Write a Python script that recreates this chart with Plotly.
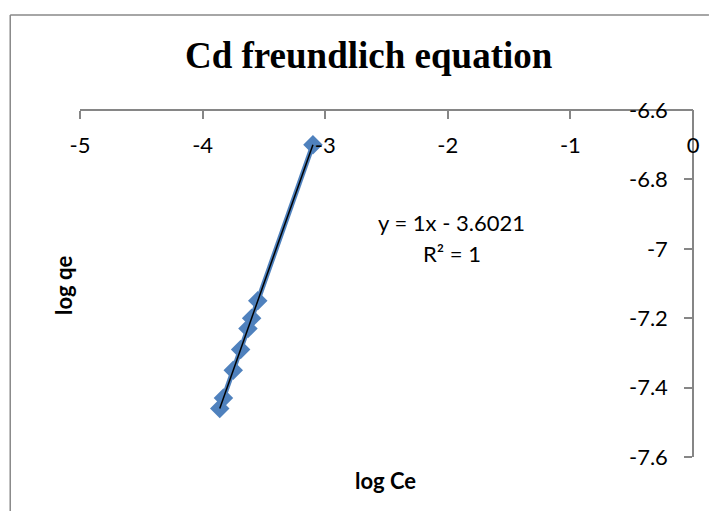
import numpy as np
import plotly.graph_objects as go

# Data
log_ce = [-3.10, -3.55, -3.60, -3.63, -3.69, -3.75, -3.83, -3.86]
log_qe = [-6.70, -7.15, -7.20, -7.23, -7.29, -7.35, -7.43, -7.46]

x_ticks = [-5, -4, -3, -2, -1, 0]
y_ticks = [-7.6, -7.4, -7.2, -7.0, -6.8, -6.6]
x_tick_text = ["-5", "-4", "-3", "-2", "-1", "0"]
y_tick_text = ["-7.6", "-7.4", "-7.2", "-7", "-6.8", "-6.6"]

title_text = "Cd freundlich equation"
eq_text = "y = 1x - 3.6021"
r2_text = "R² = 1"

# page has an 8px body margin; keep the figure inside the window
OFF = 8
W, H = 720 - 2 * OFF, 519 - 2 * OFF
L, T = 80 - OFF, 110 - OFF
R = W - (695 - OFF)
B = H - (457 - OFF)
pw, ph = W - L - R, H - T - B

def px(x):
    return (x - OFF - L) / pw

def py(y):
    return (H - B - (y - OFF)) / ph

slope, intercept = np.polyfit(log_ce, log_qe, 1)
tx = np.array([min(log_ce), max(log_ce)])
ty = slope * tx + intercept

fig = go.Figure()
fig.add_trace(go.Scatter(
    x=log_ce, y=log_qe, mode="lines+markers",
    line=dict(color="#4F81BD", width=5),
    marker=dict(symbol="diamond", size=15, color="#4F81BD"),
    showlegend=False, hoverinfo="skip"))
fig.add_trace(go.Scatter(
    x=tx, y=ty, mode="lines",
    line=dict(color="black", width=1.5),
    showlegend=False, hoverinfo="skip"))

axis_col = "#868686"
border = dict(color="#898989", width=1.5)
fig.update_layout(
    width=W, height=H,
    margin=dict(l=L, r=R, t=T, b=B),
    paper_bgcolor="white", plot_bgcolor="white",
    font=dict(family="Lato", size=22, color="black"),
    xaxis=dict(range=[-5, 0], tickvals=x_ticks, ticktext=x_tick_text,
               anchor="free", position=1, side="bottom",
               showline=True, linecolor=axis_col, linewidth=1.5,
               ticks="outside", ticklen=8, tickcolor=axis_col, tickwidth=1.5,
               ticklabelstandoff=8,
               showgrid=False, zeroline=False),
    yaxis=dict(range=[-7.6, -6.6], tickvals=y_ticks, ticktext=y_tick_text,
               anchor="free", position=1, side="left",
               showline=True, linecolor=axis_col, linewidth=1.5,
               ticks="outside", ticklen=8, tickcolor=axis_col, tickwidth=1.5,
               ticklabelstandoff=12,
               showgrid=False, zeroline=False),
    shapes=[
        dict(type="line", xref="paper", yref="paper",
             x0=px(10), x1=px(10), y0=py(519), y1=py(15), line=border, layer="below"),
        dict(type="line", xref="paper", yref="paper",
             x0=px(10), x1=px(711), y0=py(15), y1=py(15), line=border, layer="below"),
    ],
    annotations=[
        dict(text="<b>" + title_text + "</b>", x=px(370), y=py(56), xref="paper", yref="paper",
             xanchor="center", yanchor="middle", showarrow=False,
             font=dict(family="Liberation Serif", size=37, color="black")),
        dict(text=eq_text, x=px(453), y=py(222), xref="paper", yref="paper",
             xanchor="center", yanchor="middle", showarrow=False,
             font=dict(family="Lato", size=22)),
        dict(text=r2_text, x=px(453), y=py(253), xref="paper", yref="paper",
             xanchor="center", yanchor="middle", showarrow=False,
             font=dict(family="Lato", size=22)),
        dict(text="<b>log Ce</b>", x=px(386), y=py(480), xref="paper", yref="paper",
             xanchor="center", yanchor="middle", showarrow=False,
             font=dict(family="Lato", size=22)),
        dict(text="<b>log qe</b>", x=px(63), y=py(286), xref="paper", yref="paper",
             xanchor="center", yanchor="middle", showarrow=False, textangle=-90,
             font=dict(family="Lato", size=22)),
    ],
)

fig.write_html("out.html")
